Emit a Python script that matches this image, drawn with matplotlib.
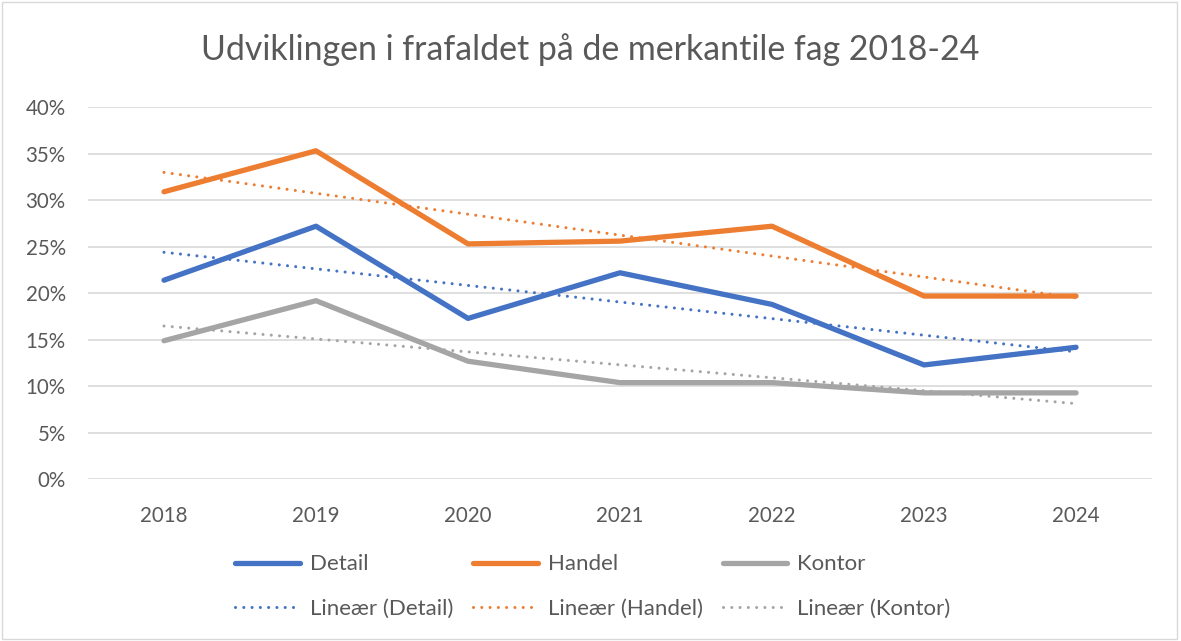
import numpy as np
from matplotlib import pyplot as plt
from matplotlib.patches import Rectangle
from matplotlib.ticker import PercentFormatter, MultipleLocator

years = ['2018', '2019', '2020', '2021', '2022', '2023', '2024']
detail = [21.4, 27.2, 17.3, 22.2, 18.8, 12.3, 14.2]
handel = [30.9, 35.3, 25.3, 25.6, 27.2, 19.7, 19.7]
kontor = [14.9, 19.2, 12.7, 10.4, 10.4, 9.3, 9.3]

series = [('Detail', detail, '#4472C4'),
          ('Handel', handel, '#ED7D31'),
          ('Kontor', kontor, '#A5A5A5')]

plt.rcParams['font.family'] = ['Lato', 'DejaVu Sans']
txt = '#595959'

fig = plt.figure(figsize=(11.81, 6.41), dpi=100)
ax = fig.add_axes([0.0745, 0.252, 0.901, 0.581])
fig.patches.append(Rectangle((0.002, 0.003), 0.995, 0.994, transform=fig.transFigure,
                             fill=False, edgecolor='#D9D9D9', linewidth=1))

x = np.arange(len(years))
handles = []
for name, vals, col in series:
    h, = ax.plot(x, vals, color=col, lw=3.8, solid_capstyle='round',
                 solid_joinstyle='round', label=name, zorder=3)
    # excel style linear trendline, least squares fit of the series
    k, m = np.polyfit(x, vals, 1)
    t, = ax.plot(x, k * x + m, color=col, lw=2.2, linestyle=(0, (0.01, 2.7)),
                 dash_capstyle='round', label=f'Lineær ({name})', zorder=4)
    handles += [h, t]

ax.set_xlim(-0.5, 6.5)
ax.set_ylim(0, 40)
ax.set_xticks(x)
ax.set_xticklabels(years)
ax.yaxis.set_major_locator(MultipleLocator(5))
ax.yaxis.set_major_formatter(PercentFormatter(decimals=0))
ax.grid(axis='y', color='#D9D9D9', lw=1.2)
ax.set_axisbelow(True)
for s in ax.spines.values():
    s.set_visible(False)
ax.tick_params(length=0, labelsize=14.8, labelcolor=txt)
ax.tick_params(axis='x', pad=19)
ax.tick_params(axis='y', pad=16)

fig.text(0.5, 0.922, 'Udviklingen i frafaldet på de merkantile fag 2018-24',
         ha='center', va='center', fontsize=24.4, color=txt)

fig.legend(handles=handles, ncol=3, loc='center', bbox_to_anchor=(0.502, 0.085),
           frameon=False, fontsize=16, labelcolor=txt, handlelength=2.9,
           handletextpad=0.45, columnspacing=0.9, labelspacing=1.1)

plt.savefig('out.png')
plt.close()
